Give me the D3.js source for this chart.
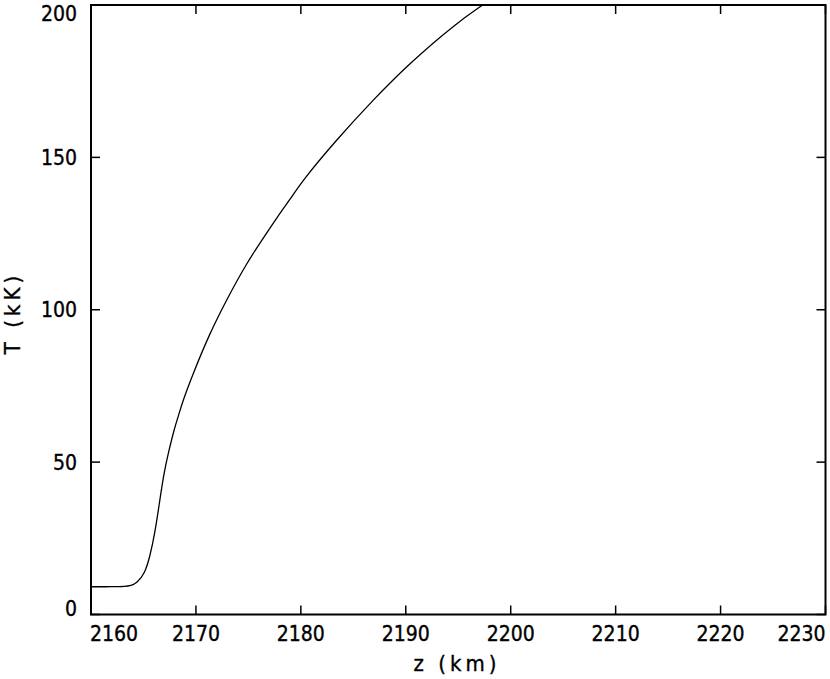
<!DOCTYPE html>
<html>
<head>
<meta charset="utf-8">
<script src="https://cdn.jsdelivr.net/npm/d3@7"></script>
<style>
  html, body { margin: 0; padding: 0; background: #fff; }
  svg text { font-family: "DejaVu Sans Condensed", "DejaVu Sans", sans-serif; font-stretch: condensed; fill: #000; stroke: #000; stroke-width: 0.35px; }
</style>
</head>
<body>
<svg id="chart" width="830" height="679"></svg>
<script>
// Data
const zValues = [2160, 2162, 2163.3, 2163.8, 2164.35, 2165.14, 2165.61, 2166.09, 2166.56, 2166.95, 2167.36, 2167.99, 2168.31, 2168.78, 2169.73, 2171.32, 2172.91, 2174.81, 2176.72, 2177.67, 2178.93, 2180.2, 2183.38, 2186.86, 2190.35, 2194.8, 2197.33];
const tValues = [9.1, 9.1, 9.2, 9.5, 10.2, 13.5, 19.0, 26.6, 37.6, 46.3, 52.9, 61.6, 64.9, 70.4, 79.1, 92.3, 103.2, 115.2, 125.1, 130.0, 136.0, 142.6, 155.7, 168.8, 180.9, 194.0, 200];
const xTicks = [2160, 2170, 2180, 2190, 2200, 2210, 2220, 2230];
const yTicks = [0, 50, 100, 150, 200];
const xTitle = "z (km)";
const yTitle = "T (kK)";

const svg = d3.select("#chart");
const pL = 91, pR = 825.5, pT = 5, pB = 614.5;

const x = d3.scaleLinear().domain([2160, 2230]).range([pL, pR]);
const y = d3.scaleLinear().domain([0, 200]).range([pB, pT]);

const tickLen = 9;
const g = svg.append("g");

// inward ticks on all four sides
g.selectAll(".xtb").data(xTicks).join("line").attr("class", "xtb")
  .attr("x1", d => x(d)).attr("x2", d => x(d))
  .attr("y1", pB).attr("y2", pB - tickLen)
  .attr("stroke", "#000").attr("stroke-width", 1.5);
g.selectAll(".xtt").data(xTicks).join("line").attr("class", "xtt")
  .attr("x1", d => x(d)).attr("x2", d => x(d))
  .attr("y1", pT).attr("y2", pT + tickLen)
  .attr("stroke", "#000").attr("stroke-width", 1.5);
g.selectAll(".ytl").data(yTicks).join("line").attr("class", "ytl")
  .attr("x1", pL).attr("x2", pL + tickLen)
  .attr("y1", d => y(d)).attr("y2", d => y(d))
  .attr("stroke", "#000").attr("stroke-width", 1.5);
g.selectAll(".ytr").data(yTicks).join("line").attr("class", "ytr")
  .attr("x1", pR).attr("x2", pR - tickLen)
  .attr("y1", d => y(d)).attr("y2", d => y(d))
  .attr("stroke", "#000").attr("stroke-width", 1.5);

// frame
svg.append("rect")
  .attr("x", pL).attr("y", pT)
  .attr("width", pR - pL).attr("height", pB - pT)
  .attr("fill", "none").attr("stroke", "#000").attr("stroke-width", 2);

// curve
svg.append("clipPath").attr("id", "clip").append("rect")
  .attr("x", pL).attr("y", pT).attr("width", pR - pL).attr("height", pB - pT);
const pts = zValues.map((z, i) => [z, tValues[i]]);
svg.append("path")
  .datum(pts)
  .attr("clip-path", "url(#clip)")
  .attr("fill", "none").attr("stroke", "#000").attr("stroke-width", 1.3)
  .attr("d", d3.line().x(d => x(d[0])).y(d => y(d[1])).curve(d3.curveBasis));

// tick labels
const fs = 21;
svg.selectAll(".xl").data(xTicks).join("text").attr("class", "xl")
  .attr("x", (d, i) => i === 0 ? pL - 1 : (i === xTicks.length - 1 ? pR : x(d)))
  .attr("y", 641)
  .attr("text-anchor", (d, i) => i === 0 ? "start" : (i === xTicks.length - 1 ? "end" : "middle"))
  .attr("font-size", fs)
  .text(d => d);
svg.selectAll(".yl").data(yTicks).join("text").attr("class", "yl")
  .attr("x", 77)
  .attr("y", (d, i) => {
    let c = y(d);
    if (i === 0) c = 608.5;
    if (i === yTicks.length - 1) c = 13.5;
    return c;
  })
  .attr("dy", "0.36em")
  .attr("text-anchor", "end")
  .attr("font-size", fs)
  .text(d => d);

// axis titles
svg.append("text")
  .attr("x", 457).attr("y", 671)
  .attr("text-anchor", "middle")
  .attr("font-size", 22)
  .attr("letter-spacing", 4)
  .text(xTitle);
svg.append("text")
  .attr("transform", "translate(20,313) rotate(-90)")
  .attr("text-anchor", "middle")
  .attr("font-size", 22)
  .attr("letter-spacing", 4)
  .text(yTitle);
</script>
</body>
</html>
